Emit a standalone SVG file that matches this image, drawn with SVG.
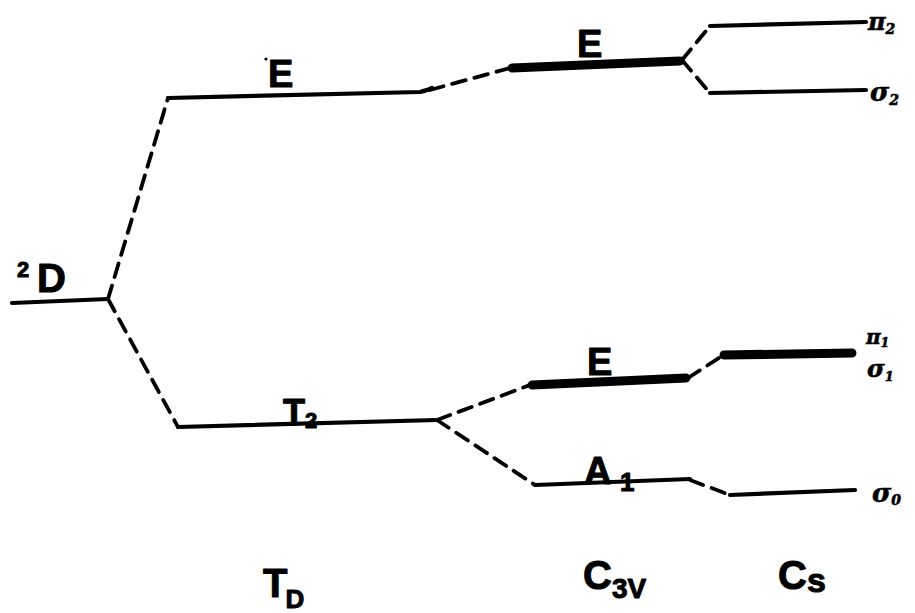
<svg xmlns="http://www.w3.org/2000/svg" width="915" height="613" viewBox="0 0 915 613">
<style>
.lvl{stroke:#000;stroke-width:4.2;fill:none;stroke-linecap:round;stroke-linejoin:round}
.thick{stroke:#000;stroke-width:9;fill:none;stroke-linecap:round}
.dash{stroke:#000;stroke-width:3.8;fill:none;stroke-dasharray:14 9;stroke-linecap:round}
.lab{font-family:"Liberation Sans",Arial,sans-serif;font-weight:bold;fill:#000;stroke:#000;stroke-width:1;stroke-linejoin:round}
.gk{font-family:"DejaVu Serif","Liberation Serif",serif;font-weight:bold;font-style:italic;fill:#000;stroke:#000;stroke-width:0.6}
</style>
<rect width="915" height="613" fill="#fff"/>
<g id="connectors">
<path class="dash" d="M108,299 L168,98"/>
<path class="dash" d="M108,299 L178,427"/>
<path class="dash" d="M430,90 L510,68"/>
<path class="dash" d="M437,420 L530,385"/>
<path class="dash" d="M437,420 L535,485"/>
<path class="dash" d="M682,60 L710,26"/>
<path class="dash" d="M682,60 L710,93"/>
<path class="dash" d="M688,378 L722,356"/>
<path class="dash" d="M690,480 L730,495"/>
</g>
<g id="level-2D">
<path class="lvl" d="M12,303 L108,299"/>
<text class="lab" x="17" y="277" font-size="22">2</text>
<text class="lab" x="37" y="292" font-size="40">D</text>
</g>
<g id="level-Td-E">
<path class="lvl" d="M168,98 L420,92 Q428,90 432,88"/>
<text class="lab" x="268" y="87" font-size="38">E</text>
<circle cx="266" cy="59" r="1.6" fill="#000"/>
</g>
<g id="level-Td-T2">
<path class="lvl" d="M178,427 L437,420"/>
<text class="lab" x="283" y="425" font-size="36">T</text>
<text class="lab" x="305" y="428" font-size="22">2</text>
</g>
<g id="level-C3v-E-top">
<path class="thick" d="M512,68 L680,61"/>
<text class="lab" x="577" y="57" font-size="38">E</text>
</g>
<g id="level-C3v-E-low">
<path class="thick" d="M532,385 L686,378"/>
<text class="lab" x="587" y="375" font-size="38">E</text>
</g>
<g id="level-C3v-A1">
<path class="lvl" d="M535,485 L690,479"/>
<text class="lab" x="584" y="484" font-size="38">A</text>
<text class="lab" x="620" y="491" font-size="26">1</text>
</g>
<g id="level-Cs-pi2">
<path class="lvl" d="M710,26 L866,22"/>
<text class="gk" x="868" y="30" font-size="24">π<tspan font-size="14" dy="4">2</tspan></text>
</g>
<g id="level-Cs-sigma2">
<path class="lvl" d="M710,93 L866,90"/>
<text class="gk" x="870" y="101" font-size="26">σ<tspan font-size="14" dy="4">2</tspan></text>
</g>
<g id="level-Cs-pi1sigma1">
<path class="thick" d="M724,355 L852,353"/>
<text class="gk" x="866" y="344" font-size="20">π<tspan font-size="12" dy="3">1</tspan></text>
<text class="gk" x="867" y="377" font-size="24">σ<tspan font-size="13" dy="4">1</tspan></text>
</g>
<g id="level-Cs-sigma0">
<path class="lvl" d="M730,495 L855,490"/>
<text class="gk" x="872" y="502" font-size="26">σ<tspan font-size="14" dy="3">0</tspan></text>
</g>
<g id="group-labels">
<text class="lab" x="263" y="597" font-size="40">T<tspan font-size="26" dx="-2" dy="11">D</tspan></text>
<text class="lab" x="583" y="589" font-size="40">C<tspan font-size="28" dy="9">3V</tspan></text>
<text class="lab" x="778" y="589" font-size="40">C<tspan font-size="34" dy="3">s</tspan></text>
</g>
</svg>
